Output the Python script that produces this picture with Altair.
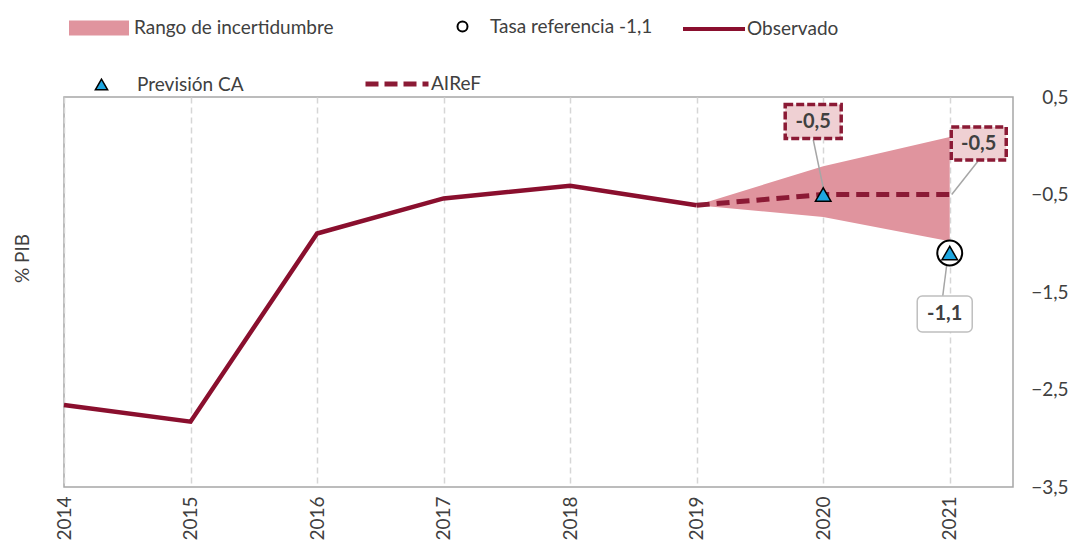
import altair as alt
import pandas as pd

# ---------------- data ----------------
years_obs = [2014, 2015, 2016, 2017, 2018, 2019]
values_obs = [-2.66, -2.83, -0.90, -0.54, -0.41, -0.61]

years_proj = [2019, 2020, 2021]
values_airef = [-0.61, -0.50, -0.50]
band_low = [-0.61, -0.73, -0.98]
band_high = [-0.61, -0.21, 0.09]

years_ca = [2020, 2021]
values_ca = [-0.5, -1.1]

years_ref = [2021]
values_ref = [-1.1]

label_years = [2020, 2021, 2021]
label_values = [-0.5, -0.5, -1.1]

year_ticks = [2014, 2015, 2016, 2017, 2018, 2019, 2020, 2021]
y_ticks = [0.5, -0.5, -1.5, -2.5, -3.5]

# ---------------- style ----------------
FONT = "Lato"
TXT = "#404040"
RED = "#8A0F2E"
DASHRED = "#8B1A35"
PINK = "#E0949E"
BLUE = "#1EA6E0"

xscale = alt.Scale(domain=[2014, 2021.5], nice=False, zero=False)
yscale = alt.Scale(domain=[-3.5, 0.5], nice=False, zero=False)

X_axis = alt.Axis(values=year_ticks, format="d", labelAngle=270, labelFont=FONT,
                  labelFontSize=19, labelColor=TXT, labelPadding=9, ticks=False,
                  domain=False, grid=True, gridDash=[6, 4], gridColor="#D6D6D6",
                  gridWidth=1.5, title=None)


def X():
    return alt.X("year:Q", scale=xscale, axis=X_axis)


def leg(x, y, **kw):
    return alt.Legend(orient="none", legendX=x, legendY=y, title=None, padding=0,
                      labelFont=FONT, labelFontSize=19, labelColor=TXT, labelLimit=500, **kw)


def fmt(v):
    return f"{v:.1f}".replace(".", ",")


df_obs = pd.DataFrame({"year": years_obs, "v": values_obs, "s": "Observado"})
df_airef = pd.DataFrame({"year": years_proj, "v": values_airef, "s": "AIReF"})
df_band = pd.DataFrame({"year": years_proj, "lo": band_low, "hi": band_high,
                        "s": "Rango de incertidumbre"})
df_ca = pd.DataFrame({"year": years_ca, "v": values_ca, "s": "Previsión CA"})
df_ref = pd.DataFrame({"year": years_ref, "v": values_ref, "s": "Tasa referencia -1,1"})
df_lab = pd.DataFrame({"year": label_years, "v": label_values,
                       "t": [fmt(v) for v in label_values]})

band = alt.Chart(df_band).mark_area(opacity=1).encode(
    x=X(),
    y=alt.Y("lo:Q", scale=yscale, axis=alt.Axis(
        orient="right", values=y_ticks,
        labelExpr="replace(format(datum.value, '.1f'), '.', ',')",
        title=None, ticks=False, domain=False, grid=False, labelPadding=55,
        labelAlign="right", labelFont=FONT, labelFontSize=19, labelColor=TXT)),
    y2="hi:Q",
    color=alt.Color("s:N", scale=alt.Scale(domain=["Rango de incertidumbre"], range=[PINK]),
                    legend=leg(4, -100, symbolType="M-1,-0.25L1,-0.25L1,0.25L-1,0.25Z",
                               symbolSize=3600, symbolOpacity=1, labelOffset=4)),
)

obs = alt.Chart(df_obs).mark_line(strokeWidth=4.5).encode(
    x=X(),
    y=alt.Y("v:Q", scale=yscale, axis=alt.Axis(
        orient="left", title="% PIB", labels=False, ticks=False, domain=False,
        grid=False, titleX=-42, titleY=161, titleBaseline="middle", titleFont=FONT,
        titleFontSize=19, titleFontWeight="normal", titleColor=TXT)),
    color=alt.Color("s:N", scale=alt.Scale(domain=["Observado"], range=[RED]),
                    legend=leg(617, -101, symbolType="stroke", symbolSize=3844,
                               symbolStrokeWidth=4, labelOffset=0)),
)

airef = alt.Chart(df_airef).mark_line(strokeWidth=5, strokeDash=[13, 7]).encode(
    x=X(),
    y=alt.Y("v:Q", scale=yscale, axis=None),
    color=alt.Color("s:N", scale=alt.Scale(domain=["AIReF"], range=[DASHRED]),
                    legend=leg(299, -47, symbolType="stroke", symbolSize=3969,
                               symbolStrokeWidth=5, symbolDash=[13, 6], labelOffset=0)),
)

ref = alt.Chart(df_ref).mark_point(shape="circle", size=620, filled=False, fill="white",
                                   fillOpacity=1, strokeWidth=2, opacity=1).encode(
    x=X(),
    y=alt.Y("v:Q", scale=yscale, axis=None),
    color=alt.Color("s:N", scale=alt.Scale(domain=["Tasa referencia -1,1"], range=["black"]),
                    legend=leg(389, -80, symbolType="circle", symbolSize=100,
                               symbolStrokeWidth=2, symbolFillColor="white", labelOffset=18)),
)

ca = alt.Chart(df_ca).mark_point(shape="triangle-up", size=240, filled=True, stroke="black",
                                 strokeWidth=1.5, opacity=1).encode(
    x=X(),
    y=alt.Y("v:Q", scale=yscale, axis=None),
    color=alt.Color("s:N", scale=alt.Scale(domain=["Previsión CA"], range=[BLUE]),
                    legend=leg(28, -22, symbolType="triangle-up", symbolSize=150,
                               symbolStrokeColor="black", symbolStrokeWidth=1.5,
                               labelOffset=26)),
)


def callout(idx, dx, dy, w, h, sx, sy, ex, ey, dashed):
    d = df_lab.iloc[[idx]]
    base = alt.Chart(d).encode(
        x=X(),
        y=alt.Y("v:Q", scale=yscale, axis=None),
    )
    rule = alt.Chart(d).mark_rule(color="#A6A6A6", strokeWidth=1.5, xOffset=sx, yOffset=sy,
                                  x2Offset=ex, y2Offset=ey).encode(
        x=X(),
        y=alt.Y("v:Q", scale=yscale, axis=None),
        x2="year:Q", y2="v:Q",
    )
    if dashed:
        box = base.mark_rect(width=w, height=h, xOffset=dx, yOffset=dy, fill="#EFD0D3",
                             stroke=DASHRED, strokeWidth=3.5, strokeDash=[8, 3])
    else:
        box = base.mark_rect(width=w, height=h, xOffset=dx, yOffset=dy, fill="white",
                             stroke="#BFBFBF", strokeWidth=1.5, cornerRadius=5)
    txt = base.mark_text(xOffset=dx, yOffset=dy, font=FONT, fontSize=20, fontWeight="bold",
                         color=TXT, align="center", baseline="middle").encode(text="t:N")
    return rule, box, txt


r1, b1, t1 = callout(0, -10, -73, 56, 34, -10, -55, 0, -7, True)
r2, b2, t2 = callout(1, 29, -51, 55, 33, 28, -33, 2, 0, True)
r3, b3, t3 = callout(2, -5, 61, 55, 36, -7, 43, -2, 4, False)

chart = alt.layer(
    band, obs, airef, r1, r2, r3, ref, ca, b1, b2, b3, t1, t2, t3
).resolve_scale(color="independent").resolve_axis(y="independent").properties(
    width=949, height=390,
    autosize=alt.AutoSizeParams(type="none"),
    padding={"left": 56, "top": 89, "right": 59, "bottom": 57},
).configure_view(stroke="#A6A6A6", strokeWidth=1.5)

chart.save("out.html", embed_options={"renderer": "svg", "actions": False})
